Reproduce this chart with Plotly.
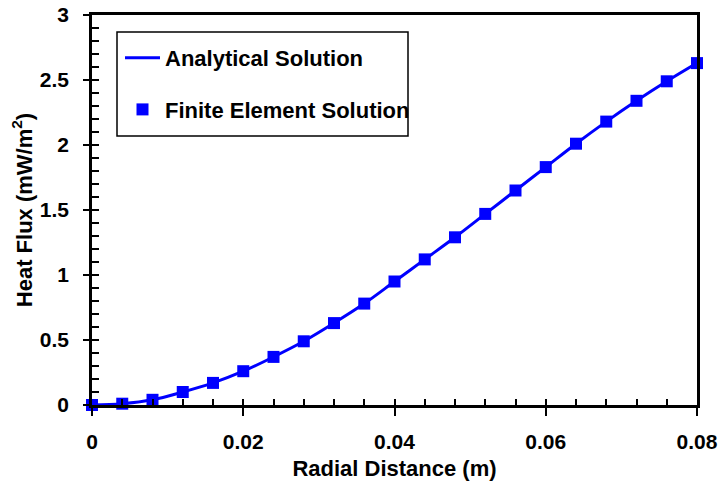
import plotly.graph_objects as go

radial_distance = [0.0, 0.004, 0.008, 0.012, 0.016, 0.020, 0.024, 0.028, 0.032, 0.036,
                   0.040, 0.044, 0.048, 0.052, 0.056, 0.060, 0.064, 0.068, 0.072, 0.076, 0.080]
analytical_flux = [0.0, 0.01, 0.04, 0.10, 0.17, 0.26, 0.37, 0.49, 0.63, 0.78,
                   0.95, 1.12, 1.29, 1.47, 1.65, 1.83, 2.01, 2.18, 2.34, 2.49, 2.63]
fe_flux = [0.0, 0.01, 0.04, 0.10, 0.17, 0.26, 0.37, 0.49, 0.63, 0.78,
           0.95, 1.12, 1.29, 1.47, 1.65, 1.83, 2.01, 2.18, 2.34, 2.49, 2.63]

BLUE = "#0000FF"
FAM = "Arial, Liberation Sans, sans-serif"
TITLE_FONT = dict(family=FAM, size=22, color="black", weight="bold")
TICK_FONT = dict(family=FAM, size=21, color="black", weight="bold")

W, H = 719, 481
PL, PT, PR, PB = 92, 15, 22, 76
PW, PH = W - PL - PR, H - PT - PB


def px_x(page_x):
    return (page_x - PL) / PW


def px_y(page_y):
    return (H - PB - page_y) / PH


fig = go.Figure()
fig.add_trace(go.Scatter(x=radial_distance, y=analytical_flux, mode="lines",
                         line=dict(color=BLUE, width=3, shape="spline"),
                         name="Analytical Solution", legendgroup="a", cliponaxis=False))
fig.add_trace(go.Scatter(x=radial_distance, y=fe_flux, mode="markers",
                         marker=dict(symbol="square", size=12, color=BLUE),
                         name="Finite Element Solution", legendgroup="b", cliponaxis=False))
# helper trace so the overlay (inside-tick) axes render
fig.add_trace(go.Scatter(x=[0], y=[0], xaxis="x2", yaxis="y2", mode="markers",
                         marker=dict(opacity=0), showlegend=False, hoverinfo="skip"))

fig.update_layout(
    width=W, height=H,
    margin=dict(l=PL, r=PR, t=PT, b=PB, autoexpand=False),
    paper_bgcolor="white", plot_bgcolor="white",
    font=TITLE_FONT,
    showlegend=True,
    legend=dict(x=px_x(120), y=px_y(37), xanchor="left", yanchor="top",
                bgcolor="rgba(0,0,0,0)", borderwidth=0, itemwidth=35,
                font=TITLE_FONT, tracegroupgap=20),
    xaxis=dict(range=[0, 0.08], dtick=0.02, tick0=0, showgrid=False, zeroline=False,
               showline=True, linecolor="black", linewidth=2.5, mirror=True,
               ticks="outside", ticklen=8, tickwidth=2, tickcolor="black",
               tickfont=TICK_FONT, ticklabelstandoff=8, automargin=False,
               ticklabeloverflow="allow",
               title=dict(text="Radial Distance (m)", font=TITLE_FONT, standoff=9)),
    yaxis=dict(range=[0, 3], dtick=0.5, tick0=0, showgrid=False, zeroline=False,
               showline=True, linecolor="black", linewidth=2.5, mirror=True,
               ticks="outside", ticklen=6, tickwidth=2, tickcolor="black",
               tickfont=TICK_FONT, ticklabelstandoff=10, automargin=False,
               ticklabeloverflow="allow",
               title=dict(text="Heat Flux (mW/m<sup>2</sup>)", font=TITLE_FONT, standoff=2)),
    xaxis2=dict(range=[0, 0.08], overlaying="x", anchor="y2", side="bottom",
                dtick=0.004, tick0=0, showgrid=False, zeroline=False, showline=False,
                ticks="inside", ticklen=6, tickwidth=2, tickcolor="black",
                showticklabels=False),
    yaxis2=dict(range=[0, 3], overlaying="y", anchor="x2", side="left",
                dtick=0.1, tick0=0, showgrid=False, zeroline=False, showline=False,
                ticks="inside", ticklen=7, tickwidth=2, tickcolor="black",
                showticklabels=False),
    shapes=[dict(type="rect", xref="paper", yref="paper",
                 x0=px_x(117), x1=px_x(408), y0=px_y(136), y1=px_y(32),
                 line=dict(color="black", width=1.5), fillcolor="rgba(0,0,0,0)")],
)

fig.write_html("out.html", config={"displayModeBar": False},
               post_script="document.body.style.margin='0';document.body.style.overflow='hidden';")
